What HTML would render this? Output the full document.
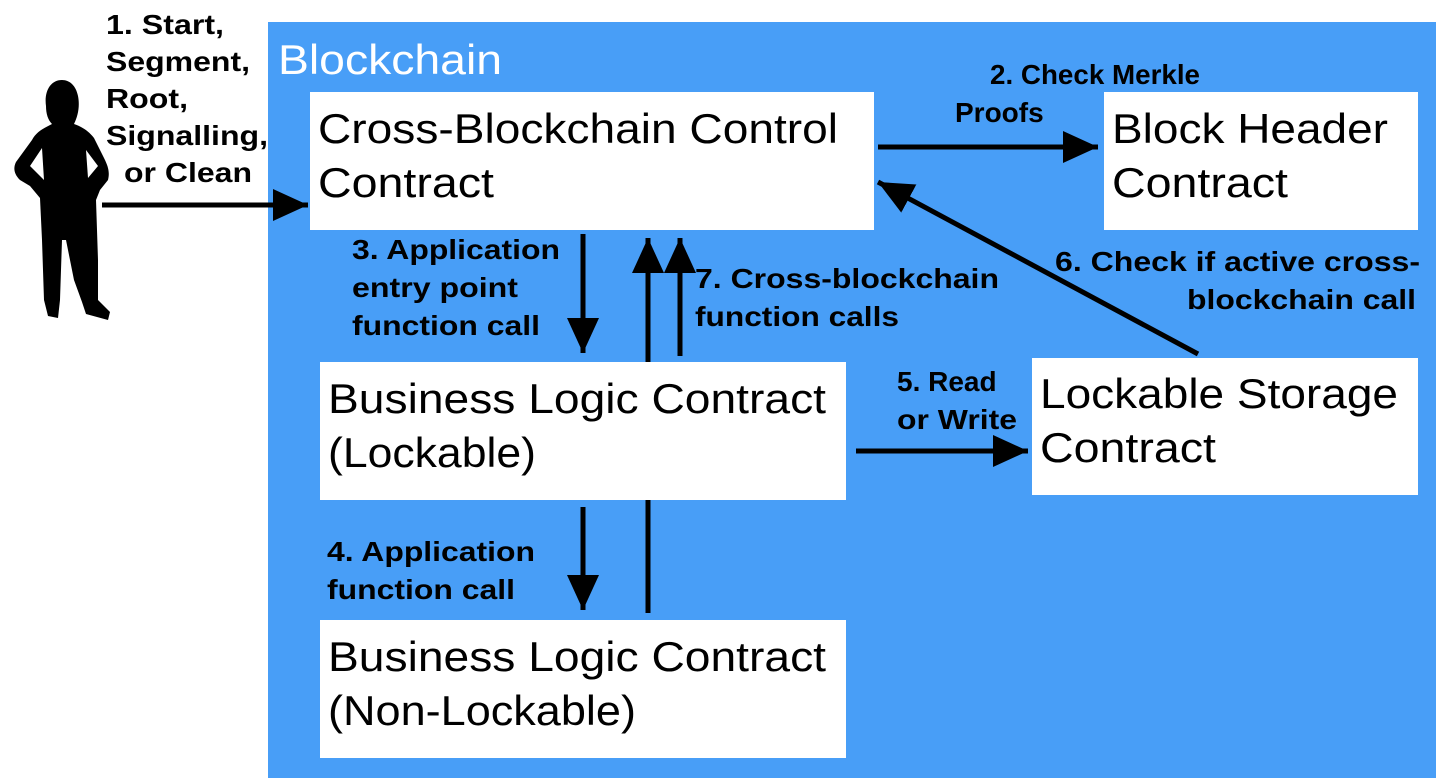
<!DOCTYPE html>
<html><head><meta charset="utf-8"><style>
body{margin:0;background:#fff;}
svg{display:block;}
.l{font-family:"Liberation Sans",sans-serif;font-weight:bold;font-size:28px;fill:#000;}
.b{font-family:"Liberation Sans",sans-serif;font-size:42px;fill:#000;}
</style></head><body>
<svg width="1444" height="784" viewBox="0 0 1444 784" xmlns="http://www.w3.org/2000/svg">
<defs><marker id="a" markerWidth="8" markerHeight="8" refX="7" refY="4" orient="auto" markerUnits="strokeWidth"><path d="M0,0.8 L7,4 L0,7.2 z" fill="#000"/></marker></defs>
<rect x="268" y="22" width="1168" height="756" fill="#489ef7"/>
<text x="278" y="74" font-family="Liberation Sans,sans-serif" font-size="42" fill="#fff" textLength="224" lengthAdjust="spacingAndGlyphs">Blockchain</text>
<rect x="310" y="92" width="564" height="138" fill="#fff"/>
<text class="b" x="318" y="143" textLength="520" lengthAdjust="spacingAndGlyphs">Cross-Blockchain Control</text><text class="b" x="318" y="197" textLength="176" lengthAdjust="spacingAndGlyphs">Contract</text>
<rect x="1104" y="92" width="314" height="138" fill="#fff"/>
<text class="b" x="1112" y="143" textLength="276" lengthAdjust="spacingAndGlyphs">Block Header</text><text class="b" x="1112" y="197" textLength="176" lengthAdjust="spacingAndGlyphs">Contract</text>
<rect x="320" y="362" width="526" height="138" fill="#fff"/>
<text class="b" x="328" y="413" textLength="498" lengthAdjust="spacingAndGlyphs">Business Logic Contract</text><text class="b" x="328" y="467" textLength="208" lengthAdjust="spacingAndGlyphs">(Lockable)</text>
<rect x="1032" y="358" width="386" height="137" fill="#fff"/>
<text class="b" x="1040" y="408" textLength="358" lengthAdjust="spacingAndGlyphs">Lockable Storage</text><text class="b" x="1040" y="462" textLength="176" lengthAdjust="spacingAndGlyphs">Contract</text>
<rect x="320" y="620" width="526" height="138" fill="#fff"/>
<text class="b" x="328" y="671" textLength="498" lengthAdjust="spacingAndGlyphs">Business Logic Contract</text><text class="b" x="328" y="725" textLength="308" lengthAdjust="spacingAndGlyphs">(Non-Lockable)</text>
<g stroke="#000" stroke-width="5" fill="none">
<line x1="102" y1="205" x2="308" y2="205" marker-end="url(#a)"/>
<line x1="878" y1="147" x2="1098" y2="147" marker-end="url(#a)"/>
<line x1="583" y1="234" x2="583" y2="353" marker-end="url(#a)"/>
<line x1="648" y1="362" x2="648" y2="238" marker-end="url(#a)"/>
<line x1="680" y1="356" x2="680" y2="238" marker-end="url(#a)"/>
<line x1="583" y1="507" x2="583" y2="610" marker-end="url(#a)"/>
<line x1="648" y1="500" x2="648" y2="613"/>
<line x1="856" y1="451" x2="1028" y2="451" marker-end="url(#a)"/>
<line x1="1198" y1="354" x2="878" y2="182" marker-end="url(#a)"/>
</g>
<text class="l" x="106" y="34" textLength="118" lengthAdjust="spacingAndGlyphs">1. Start,</text>
<text class="l" x="106" y="71" textLength="144" lengthAdjust="spacingAndGlyphs">Segment,</text>
<text class="l" x="106" y="108" textLength="82" lengthAdjust="spacingAndGlyphs">Root,</text>
<text class="l" x="106" y="145" textLength="162" lengthAdjust="spacingAndGlyphs">Signalling,</text>
<text class="l" x="124" y="182" textLength="128" lengthAdjust="spacingAndGlyphs">or Clean</text>
<text class="l" x="990" y="84" textLength="210" lengthAdjust="spacingAndGlyphs">2. Check Merkle</text>
<text class="l" x="955" y="122">Proofs</text>
<text class="l" x="352" y="259" textLength="208" lengthAdjust="spacingAndGlyphs">3. Application</text>
<text class="l" x="352" y="297" textLength="166" lengthAdjust="spacingAndGlyphs">entry point</text>
<text class="l" x="352" y="335" textLength="188" lengthAdjust="spacingAndGlyphs">function call</text>
<text class="l" x="695" y="288" textLength="304" lengthAdjust="spacingAndGlyphs">7. Cross-blockchain</text>
<text class="l" x="695" y="326" textLength="204" lengthAdjust="spacingAndGlyphs">function calls</text>
<text class="l" x="1055" y="271" textLength="365" lengthAdjust="spacingAndGlyphs">6. Check if active cross-</text>
<text class="l" x="1187" y="309" textLength="229" lengthAdjust="spacingAndGlyphs">blockchain call</text>
<text class="l" x="897" y="391">5. Read</text>
<text class="l" x="897" y="429" textLength="120" lengthAdjust="spacingAndGlyphs">or Write</text>
<text class="l" x="327" y="561" textLength="208" lengthAdjust="spacingAndGlyphs">4. Application</text>
<text class="l" x="327" y="599" textLength="188" lengthAdjust="spacingAndGlyphs">function call</text>
<path fill="#000" fill-rule="evenodd" d="M62,80 C50,80 44,92 46,106 C46,114 48,120 52,124 C44,128 36,132 32,140 L16,162 C13,168 14,174 20,180 L30,186 L40,198 L42,240 L44,300 L48,316 L58,318 L60,300 L62,240 L66,240 L74,280 L82,302 L86,314 L108,320 L110,312 L98,300 L98,260 L96,200 L100,190 L108,180 C110,172 108,166 104,158 L94,138 C88,130 80,126 74,124 C78,116 80,106 78,96 C76,86 70,80 62,80 Z M30,166 L42,148 L44,180 Z M86,150 L98,166 L88,178 Z"/>
</svg>
</body></html>
